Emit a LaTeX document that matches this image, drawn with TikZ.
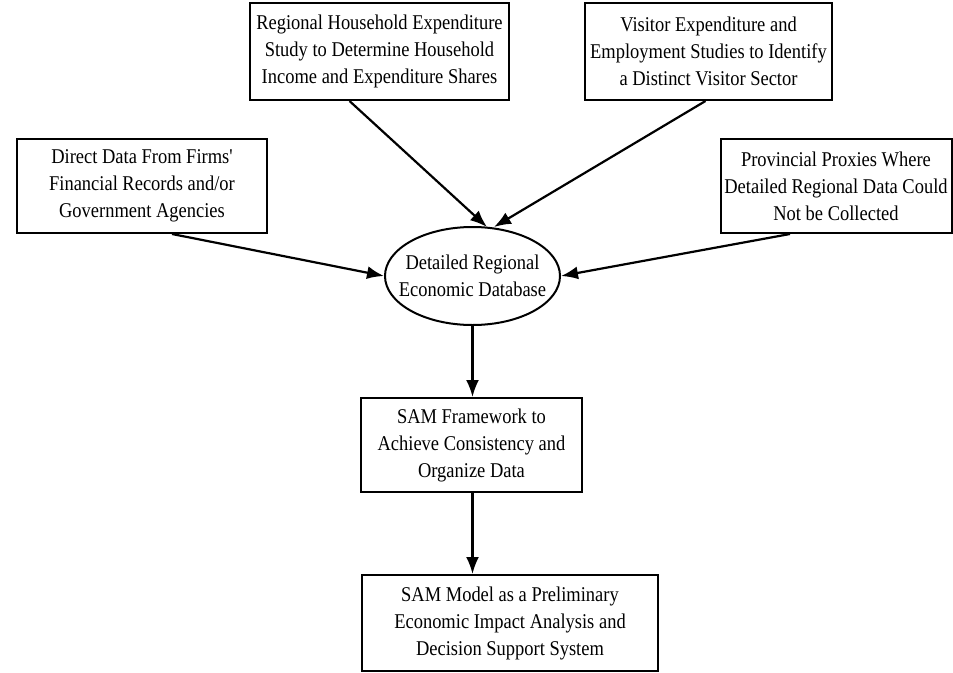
\documentclass[tikz,border=0pt]{standalone}
\usepackage{fontspec}
\setmainfont{Liberation Serif}
\newfontfamily\dfont{Liberation Serif}[FakeStretch=0.88]
\usetikzlibrary{arrows.meta,shapes.geometric}
\begin{document}
\begin{tikzpicture}[x=1pt,y=-1pt,
  txt/.style={align=center,inner sep=0pt,font=\dfont\fontsize{21}{27}\selectfont},
  box/.style={txt,draw,line width=2pt},
  oval/.style={draw,ellipse,line width=2pt,inner sep=0pt},
  arr/.style={line width=2.2pt,-{Latex[length=17pt,width=13pt]}}]
\useasboundingbox (0,0) rectangle (953,672);
\node[box,minimum width=259pt,minimum height=97pt] (hh) at (379.5,51.5) {Regional Household Expenditure\\Study to Determine Household\\Income and Expenditure Shares};
\node[box,minimum width=247pt,minimum height=97pt] (vis) at (708.5,51.5) {Visitor Expenditure and\\Employment Studies to Identify\\a Distinct Visitor Sector};
\node[box,minimum width=250pt,minimum height=94pt] (firm) at (142,186) {Direct Data From Firms'\\Financial Records and/or\\Government Agencies};
\node[box,minimum width=231pt,minimum height=94pt] (prov) at (836,186) {Provincial Proxies Where\\Detailed Regional Data Could\\Not be Collected};
\node[oval,minimum width=175pt,minimum height=98pt] (db) at (472.5,276) {};
\node[txt] (dbtext) at (db.center) {Detailed Regional\\Economic Database};
\node[box,minimum width=221pt,minimum height=94pt] (fw) at (471.5,445) {SAM Framework to\\Achieve Consistency and\\Organize Data};
\node[box,minimum width=296pt,minimum height=96pt] (model) at (510,623) {SAM Model as a Preliminary\\Economic Impact Analysis and\\Decision Support System};
\coordinate (dbt1) at (487,227);
\coordinate (dbt2) at (494,227);
\coordinate (fwt) at (fw.north -| db.south);
\coordinate (fwb) at (fw.south -| db.south);
\coordinate (mt) at (model.north -| db.south);
\draw[arr] ([xshift=-30pt]hh.south) -- (dbt1);
\draw[arr] ([xshift=-3pt]vis.south) -- (dbt2);
\draw[arr] ([xshift=30pt]firm.south) -- (db.west);
\draw[arr] ([xshift=-46pt]prov.south) -- (db.east);
\draw[arr] (db.south) -- (fwt);
\draw[arr] (fwb) -- (mt);
\end{tikzpicture}
\end{document}
